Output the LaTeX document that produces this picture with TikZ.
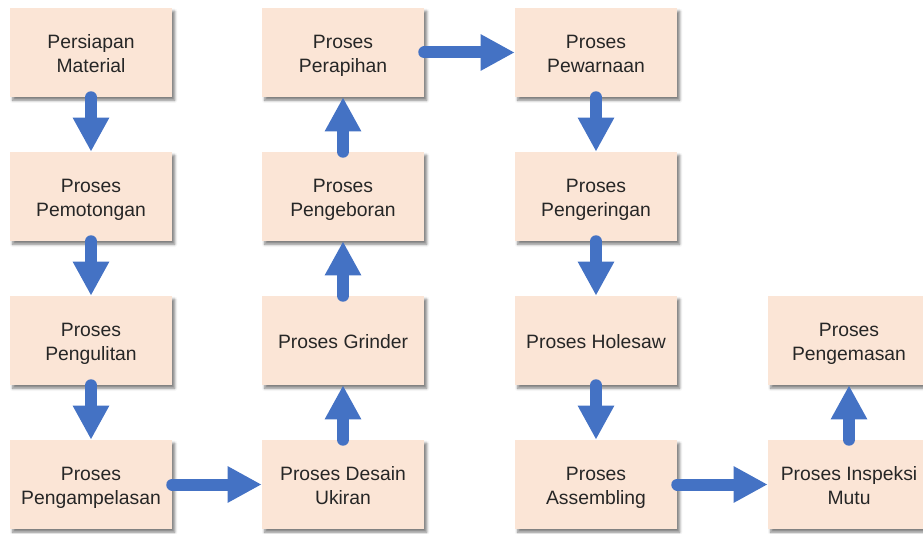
\documentclass[tikz,border=0pt]{standalone}
\usepackage{fontspec}
\setmainfont{Liberation Sans}
\usetikzlibrary{arrows.meta}
\usetikzlibrary{shadows.blur}
\definecolor{boxfill}{HTML}{FBE5D6}
\definecolor{flowblue}{HTML}{4472C4}
\newcommand{\boxstrut}{\rule[-3.8pt]{0pt}{14.6pt}}
\newcommand{\topstrut}{\rule{0pt}{16pt}}
\tikzset{
  stepbox/.style = {fill=boxfill, draw=none, align=center,
    minimum width=121.5pt, minimum height=66.75pt, inner sep=0pt,
    text=black!85,
    font=\fontsize{14.5}{18}\selectfont,
    execute at end node=\boxstrut,
    blur shadow={shadow xshift=2pt, shadow yshift=-2.5pt,
      shadow blur radius=2pt, shadow opacity=50}}
}
\tikzset{
  flow/.style = {draw=flowblue, line width=9pt, line cap=round,
    -{Triangle[length=25.5pt, width=25.5pt]}}
}
\begin{document}
\begin{tikzpicture}[x=0.75pt, y=-0.75pt]
  \useasboundingbox (0,0) rectangle (923,534);

  % first column
  \node[stepbox] (persiapan) at (91,52.5) {\topstrut Persiapan\\Material};
  \node[stepbox] (pemotongan) at (91,196.5) {\topstrut Proses\\Pemotongan};
  \node[stepbox] (pengulitan) at (91,340.5) {\topstrut Proses\\Pengulitan};
  \node[stepbox] (pengampelasan) at (91,484.5) {\topstrut Proses\\Pengampelasan};

  % second column
  \node[stepbox] (desain) at (343,484.5) {\topstrut Proses Desain\\Ukiran};
  \node[stepbox] (grinder) at (343,340.5) {\topstrut Proses Grinder};
  \node[stepbox] (pengeboran) at (343,196.5) {\topstrut Proses\\Pengeboran};
  \node[stepbox] (perapihan) at (343,52.5) {\topstrut Proses\\Perapihan};

  % third column
  \node[stepbox] (pewarnaan) at (596,52.5) {\topstrut Proses\\Pewarnaan};
  \node[stepbox] (pengeringan) at (596,196.5) {\topstrut Proses\\Pengeringan};
  \node[stepbox] (holesaw) at (596,340.5) {\topstrut Proses Holesaw};
  \node[stepbox] (assembling) at (596,484.5) {\topstrut Proses\\Assembling};

  % last column
  \node[stepbox] (inspeksi) at (849,484.5) {\topstrut Proses Inspeksi\\Mutu};
  \node[stepbox] (pengemasan) at (849,340.5) {\topstrut Proses\\Pengemasan};

  \draw[flow] (persiapan.south) -- (pemotongan.north);
  \draw[flow] (pemotongan.south) -- (pengulitan.north);
  \draw[flow] (pengulitan.south) -- (pengampelasan.north);
  \draw[flow] (pengampelasan.east) -- (desain.west);
  \draw[flow] (desain.north) -- (grinder.south);
  \draw[flow] (grinder.north) -- (pengeboran.south);
  \draw[flow] (pengeboran.north) -- (perapihan.south);
  \draw[flow] (perapihan.east) -- (pewarnaan.west);
  \draw[flow] (pewarnaan.south) -- (pengeringan.north);
  \draw[flow] (pengeringan.south) -- (holesaw.north);
  \draw[flow] (holesaw.south) -- (assembling.north);
  \draw[flow] (assembling.east) -- (inspeksi.west);
  \draw[flow] (inspeksi.north) -- (pengemasan.south);
\end{tikzpicture}
\end{document}
